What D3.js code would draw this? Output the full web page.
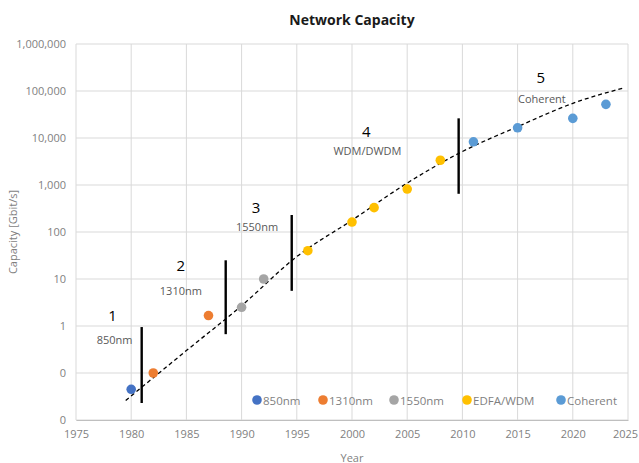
<!DOCTYPE html>
<html>
<head>
<meta charset="utf-8">
<script src="https://cdn.jsdelivr.net/npm/d3@7"></script>
<style>
  body { margin: 0; background: #fff; }
  text { font-family: "Open Sans", sans-serif; }
</style>
</head>
<body>
<svg id="chart"></svg>
<script>
// series points: [year, Gbit/s]
const s850 = [[1980, 0.045]];
const s1310 = [[1982, 0.1], [1987, 1.67]];
const s1550 = [[1990, 2.5], [1992, 10]];
const sEdfa = [[1996, 40], [2000, 163], [2002, 330], [2005, 820], [2008, 3360]];
const sCoherent = [[2011, 8300], [2015, 16500], [2020, 26200], [2023, 52000]];

const seriesNames = ['850nm', '1310nm', '1550nm', 'EDFA/WDM', 'Coherent'];
const seriesColors = ['#4472C4', '#ED7D31', '#A5A5A5', '#FFC000', '#5B9BD5'];

// dashed trend
const trendYears = [1979.5, 1985, 1990, 1995, 2000, 2005, 2010, 2015, 2020, 2024.7];
const trendValues = [0.026, 0.3, 2.7, 30, 178, 1100, 5160, 17400, 54700, 117500];

// era separators: [year, low, high]
const separators = [[1980.95, 0.023, 0.95], [1988.56, 0.67, 25], [1994.54, 5.6, 230], [2009.66, 650, 26200]];

// era labels: [text, year, value]
const eraNumbers = [['1', 1978.3, 1.71], ['2', 1984.5, 19.9], ['3', 1991.3, 336], ['4', 2001.3, 14100], ['5', 2017.1, 201000]];
const eraNames = [['850nm', 1978.5, 0.52], ['1310nm', 1984.5, 5.6], ['1550nm', 1991.4, 128], ['WDM/DWDM', 2001.4, 5470], ['Coherent', 2017.2, 68500]];

const xTicks = d3.range(1975, 2026, 5);
const yTicks = [0.01, 0.1, 1, 10, 100, 1000, 10000, 100000, 1000000];

const width = 639, height = 463;
const margin = {top: 44, right: 11, bottom: 43, left: 76};

const svg = d3.select('#chart').attr('width', width).attr('height', height);

const x = d3.scaleLinear().domain([1975, 2025]).range([margin.left, width - margin.right]);
const y = d3.scaleLog().domain([0.01, 1000000]).range([height - margin.bottom, margin.top]);

// gridlines
svg.append('g').selectAll('line.h')
  .data(yTicks)
  .join('line')
  .attr('x1', margin.left).attr('x2', width - margin.right)
  .attr('y1', d => y(d)).attr('y2', d => y(d))
  .attr('stroke', '#d9d9d9').attr('stroke-width', 1);

svg.append('g').selectAll('line.v')
  .data(xTicks)
  .join('line')
  .attr('x1', d => x(d)).attr('x2', d => x(d))
  .attr('y1', margin.top).attr('y2', height - margin.bottom)
  .attr('stroke', '#d9d9d9').attr('stroke-width', 1);

// axes
const fmt = d3.format(',.0f');
const yAxis = svg.append('g')
  .attr('transform', `translate(${margin.left},0)`)
  .call(d3.axisLeft(y).tickValues(yTicks).tickFormat(fmt).tickSize(0).tickPadding(10));
yAxis.select('.domain').remove();

const xAxis = svg.append('g')
  .attr('transform', `translate(0,${height - margin.bottom})`)
  .call(d3.axisBottom(x).tickValues(xTicks).tickFormat(d3.format('d')).tickSize(0).tickPadding(10));
xAxis.select('.domain').attr('stroke', '#bfbfbf');
// keep the last year label inside the frame
xAxis.selectAll('.tick text').filter(d => d === 2025).attr('dx', -3);

svg.selectAll('.tick text')
  .attr('fill', '#7f7f7f')
  .style('font-family', '"Open Sans", sans-serif')
  .style('font-size', '11px');

// trend
const trend = trendYears.map((d, i) => [d, trendValues[i]]);
svg.append('path')
  .datum(trend)
  .attr('fill', 'none')
  .attr('stroke', '#000')
  .attr('stroke-width', 1.3)
  .attr('stroke-dasharray', '4,3')
  .attr('d', d3.line().x(d => x(d[0])).y(d => y(d[1])).curve(d3.curveMonotoneX));

// separators
svg.append('g').selectAll('line')
  .data(separators)
  .join('line')
  .attr('x1', d => x(d[0])).attr('x2', d => x(d[0]))
  .attr('y1', d => y(d[1])).attr('y2', d => y(d[2]))
  .attr('stroke', '#000').attr('stroke-width', 2.4);

// points
const allSeries = [s850, s1310, s1550, sEdfa, sCoherent];
allSeries.forEach((pts, i) => {
  svg.append('g').selectAll('circle')
    .data(pts)
    .join('circle')
    .attr('cx', d => x(d[0]))
    .attr('cy', d => y(d[1]))
    .attr('r', 4.8)
    .attr('fill', seriesColors[i]);
});

// era labels
svg.append('g').selectAll('text')
  .data(eraNumbers)
  .join('text')
  .attr('x', d => x(d[1])).attr('y', d => y(d[2]))
  .attr('text-anchor', 'middle').attr('dominant-baseline', 'central')
  .attr('fill', '#000').style('font-size', '15px')
  .text(d => d[0]);

svg.append('g').selectAll('text')
  .data(eraNames)
  .join('text')
  .attr('x', d => x(d[1])).attr('y', d => y(d[2]))
  .attr('text-anchor', 'middle').attr('dominant-baseline', 'central')
  .attr('fill', '#595959').style('font-size', '11px')
  .text(d => d[0]);

// legend
const legendX = [257, 323, 394, 467, 561];
const legend = svg.append('g').selectAll('g')
  .data(seriesNames)
  .join('g')
  .attr('transform', (d, i) => `translate(${legendX[i]},400)`);
legend.append('circle').attr('r', 4.8).attr('fill', (d, i) => seriesColors[i]);
legend.append('text')
  .attr('x', 6).attr('dominant-baseline', 'central')
  .attr('fill', '#7f7f7f').style('font-size', '11.5px')
  .text(d => d);

// titles
svg.append('text')
  .attr('x', (margin.left + width - margin.right) / 2).attr('y', 19)
  .attr('text-anchor', 'middle').attr('dominant-baseline', 'central')
  .attr('fill', '#1a1a1a').style('font-size', '14px').style('font-weight', 'bold')
  .text('Network Capacity');

svg.append('text')
  .attr('x', (margin.left + width - margin.right) / 2).attr('y', 457)
  .attr('text-anchor', 'middle').attr('dominant-baseline', 'central')
  .attr('fill', '#7f7f7f').style('font-size', '11px')
  .text('Year');

svg.append('text')
  .attr('transform', `translate(12,${(margin.top + height - margin.bottom) / 2}) rotate(-90)`)
  .attr('text-anchor', 'middle').attr('dominant-baseline', 'central')
  .attr('fill', '#7f7f7f').style('font-size', '11px')
  .text('Capacity [Gbit/s]');
</script>
</body>
</html>
